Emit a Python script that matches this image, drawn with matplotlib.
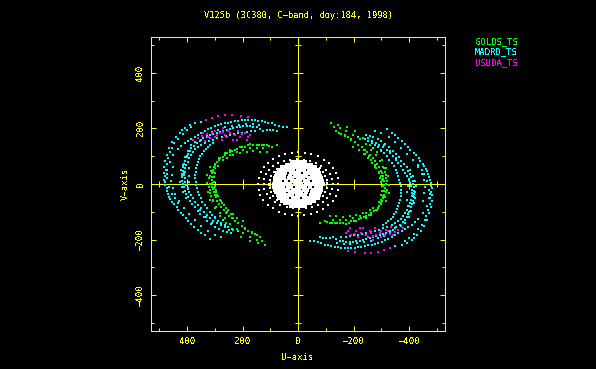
import matplotlib
matplotlib.use("Agg")
import matplotlib.pyplot as plt
import numpy as np

# --- values (half-plane; each baseline has a conjugate at (-u,-v)) ---
cyan_a = [(349,224),(373,218),(391,211),(409,201),(418,193),(427,184),(441,168),(453,150),(464,128),(472,106),(478,84),(482,60),(483,38),(482,16),(478,-4),(472,-26),(464,-46),(454,-64),(438,-84),(423,-104),(403,-124),(385,-144),(361,-166),(337,-184),(319,-198)]
cyan_b = [(42,206),(70,208),(96,218),(120,223),(144,228),(168,230),(192,230),(216,228),(241,223),(265,218),(289,212),(313,202),(337,192),(361,178),(385,162),(409,146),(421,136),(433,126),(451,104),(463,80),(471,50),(474,35),(471,20),(465,-10),(454,-36),(445,-52),(432,-70)]
cyan_c = [(78,192),(102,196),(126,192),(150,204),(174,208),(198,208),(222,204),(246,199),(270,192),(294,184),(318,176),(342,164),(366,146),(385,128),(397,108),(406,84),(414,60),(418,36),(417,12),(412,-12),(403,-36),(391,-60),(372,-84),(352,-108),(328,-132),(300,-154),(271,-170),(243,-178)]
cyan_d = [(156,192),(186,188),(216,182),(246,176),(276,170),(306,160),(337,148),(361,134),(379,116),(393,92),(403,68),(409,44),(409,20),(403,-4),(393,-28),(379,-52),(361,-76),(340,-100),(319,-124),(292,-142),(265,-156),(250,-164)]
cyan_e = [(306,146),(325,134),(340,118),(352,100),(361,80),(367,56),(370,32),(369,8),(364,-16),(357,-40),(345,-64),(328,-88),(309,-112),(288,-132),(265,-148),(240,-162),(215,-170)]
cyan_f = [(400,100),(396,80),(393,56),(392,30),(395,6),(398,-18),(386,-40),(370,-66),(352,-92),(332,-118),(310,-140),(450,60),(455,34),(458,10),(452,-16),(445,-36),(430,-60),(412,-86),(392,-108),(372,-130),(350,-150),(326,-168),(300,-184),(278,-192)]
cyan_g = [(386,206),(400,196),(416,180),(432,162),(446,146),(456,130),(462,114),(468,94),(474,72),(476,52),(478,30),(478,6),(474,-14),(468,-36),(460,-54),(448,-72),(434,-92),(416,-112),(396,-134),(374,-155),(350,-176)]
cyan_h = [(56,206),(84,212),(108,220),(132,226),(156,229),(180,231),(204,229),(228,226),(253,220),(277,215),(301,207),(325,197),(349,185),(373,170),(397,154)]
cyan_i = [(90,194),(114,194),(138,198),(162,206),(186,208),(210,206),(234,202),(258,196),(282,188),(306,180),(330,170),(354,155),(376,137),(391,118),(402,96),(410,72),(416,48),(418,24),(415,0),(408,-24),(397,-48),(382,-72),(362,-96),(340,-120),(314,-143),(286,-162),(257,-174)]
cyan_j = [(171,190),(201,185),(231,179),(261,173),(291,165),(321,154),(349,141),(370,125),(386,104),(398,80),(406,56),(410,32),(407,8),(398,-16),(386,-40),(370,-64),(351,-88),(330,-112),(306,-133),(279,-149),(300,-120),(270,-130)]
cyan_k = [(420,30),(424,8),(420,-10),(414,-30),(404,-50),(412,40),(422,50),(416,70),(408,96),(398,120),(385,140),(370,152),(350,160),(330,178),(310,186),(288,196),(262,204),(238,210),(212,214),(188,216),(164,216),(140,212)]
cyan_l = [(316,140),(333,126),(346,109),(357,90),(364,68),(369,44),(370,20),(367,-4),(361,-28),(351,-52),(337,-76),(319,-100),(299,-122),(277,-140),(252,-155)]

green_a = [(78,140),(96,132),(114,140),(132,140),(150,140),(172,144),(192,134),(210,132),(228,122),(246,116),(264,104),(280,92),(292,78),(303,60),(309,38),(312,14),(310,-10),(304,-28),(297,-48),(285,-72),(268,-94),(249,-116),(229,-132),(204,-152),(180,-168),(156,-180),(138,-190)]
green_b = [(246,122),(264,112),(285,94),(298,72),(306,44),(304,8),(297,-28),(282,-58),(261,-88),(241,-108),(219,-124),(198,-132),(300,56),(316,30),(302,-16),(292,-40),(276,-70),(256,-102),(236,-124),(216,-142),(192,-162),(168,-176)]
green_c = [(114,116),(138,116),(162,118),(186,116),(210,110),(234,104),(258,92),(318,62),(327,32),(328,2),(324,-28),(316,-58),(301,-88),(283,-116),(259,-142),(235,-166),(205,-190),(175,-204),(145,-214),(120,-220)]
green_d = [(105,136),(123,140),(141,140),(161,142),(182,139),(201,133),(219,127),(237,119),(255,110),(272,98),(286,85),(298,69),(306,49),(311,26),(311,2),(307,-19),(301,-38),(291,-60),(277,-83),(259,-105),(239,-124),(217,-142),(192,-160),(168,-174),(147,-185)]
green_e = [(126,128),(150,128),(174,128),(198,124),(222,114),(246,104),(270,86),(290,64),(314,46),(320,20),(320,-10),(316,-34),(308,-58),(296,-82),(280,-104),(262,-124),(244,-144),(222,-162),(198,-176),(172,-190),(150,-200),(130,-206)]
green_f = [(300,40),(302,24),(303,8),(300,-8),(296,-22),(290,-42),(278,-60),(266,-76),(252,-92),(236,-108),(316,0),(318,-20),(314,-44),(306,-62)]

magenta = [(331,232),(288,244),(240,247),(181,242),(343,182),(361,164),(378,160),(312,182),(294,176),(270,188),(246,182),(210,170),(192,184),(174,176),(235,158),(270,200),(336,156),(324,170),(186,158),(258,170),(300,190),(216,192),(348,172),(330,180),(318,164),(300,170),(282,182),(264,178),(252,192),(228,176),(204,180),(180,168),(222,160),(276,158),(310,238),(262,248),(206,246)]

ring_a = [(144,0),(142,22),(135,42),(124,60),(108,76),(90,90),(68,100),(46,108),(22,113),(0,114),(-24,113),(-48,107),(-70,99),(-92,88),(-110,74),(-126,58),(-136,40),(-142,20)]
ring_b = [(124,0),(122,18),(115,36),(104,52),(90,66),(72,76),(50,84),(28,88),(4,90),(-20,88),(-42,84),(-64,76),(-84,66),(-100,52),(-114,36),(-122,18)]
ring_c = [(105,0),(103,16),(98,30),(88,44),(75,55),(-78,56),(-90,44),(-98,30),(-103,16),(-105,4)]

blob_rows = [0,10,20,30,40,50,60,70,78]
blob_us = [
    [82,72,62,42,32,12,2,-8,-28,-48,-58,-68,-78,-88],
    [84,74,64,44,24,14,4,-6,-26,-36,-56,-66,-76,-86],
    [82,72,62,52,32,22,2,-8,-18,-38,-48,-58,-68,-78,-84],
    [80,70,60,50,30,10,0,-10,-20,-30,-50,-60,-70,-80],
    [76,66,56,46,26,16,6,-4,-24,-34,-44,-54,-64,-74],
    [70,60,50,40,30,20,0,-10,-20,-40,-50,-60,-70],
    [58,48,38,28,18,8,-2,-12,-22,-32,-42,-52,-60],
    [42,32,22,12,2,-8,-18,-28,-38,-46],
    [24,14,4,-6,-16,-26],
]

series = [
    ("GOLDS_TS", "#00ff00", [green_a, green_b, green_c, green_d, green_e, green_f]),
    ("MADRD_TS", "#00ffff", [cyan_a, cyan_b, cyan_c, cyan_d, cyan_e, cyan_f, cyan_g, cyan_h, cyan_i, cyan_j, cyan_k, cyan_l]),
    ("USUDA_TS", "#ff00ff", [magenta]),
]
major = [-400, -200, 200, 400]
minor = [-500, -300, -100, 100, 300, 500]
xlabels = ["400", "200", "0", "\u2212200", "\u2212400"]
ylabels = ["\u2212400", "\u2212200", "0", "200", "400"]

W, H = 596, 369
YEL = "#ffff00"
plt.rcParams["font.family"] = "DejaVu Sans Mono"
plt.rcParams["font.size"] = 6.5
plt.rcParams["text.antialiased"] = False

fig = plt.figure(figsize=(W/100, H/100), dpi=100, facecolor="black")
ax = fig.add_axes([150.5/W, (H-331)/H, 294.5/W, 294/H], facecolor="black")
ax.set_xlim(532, -529)
ax.set_ylim(-529, 529)

for s in ax.spines.values():
    s.set_color(YEL); s.set_linewidth(0.72)
ax.set_xticks([400, 200, 0, -200, -400], xlabels)
ax.set_yticks([-400, -200, 0, 200, 400], ylabels)
ax.set_xticks(minor, minor=True)
ax.set_yticks(minor, minor=True)
ax.tick_params(which="major", direction="in", length=3.6, width=0.72, color=YEL,
               labelcolor=YEL, top=True, right=True, pad=4)
ax.tick_params(which="minor", direction="in", length=2.0, width=0.72, color=YEL, top=True, right=True)
plt.setp(ax.get_yticklabels(), rotation=90, va="center")

ax.axhline(0, color=YEL, lw=0.72, zorder=1, antialiased=False)
ax.axvline(0, color=YEL, lw=0.72, zorder=1, antialiased=False)
z = np.zeros(len(major)); zm = np.zeros(len(minor))
ax.plot(major, z, "|", color=YEL, ms=7.2, mew=0.72, zorder=1)
ax.plot(minor, zm, "|", color=YEL, ms=4.3, mew=0.72, zorder=1)
ax.plot(z, major, "_", color=YEL, ms=7.2, mew=0.72, zorder=1)
ax.plot(zm, minor, "_", color=YEL, ms=4.3, mew=0.72, zorder=1)

def scatter(pts, color, s, zo):
    a = np.array(pts, dtype=float)
    ax.scatter(np.r_[a[:, 0], -a[:, 0]], np.r_[a[:, 1], -a[:, 1]], s=s, c=color,
               marker="s", linewidths=0, antialiased=False, zorder=zo)

for i, (name, color, tracks) in enumerate(series):
    for t in tracks:
        scatter(t, color, 1.6, 3 + i)
    fig.text(475/W, 1-(41.5+10.4*i)/H, name, color=color, ha="left", va="center")

for r in (ring_a, ring_b, ring_c):
    scatter(r, "white", 1.2, 7)
blob = [(u, v) for v, us in zip(blob_rows, blob_us) for u in us]
scatter(blob, "white", 6.2, 7)

fig.text(298/W, 1-16/H, "V125b (3C380, C\u2212band, doy:184, 1998)", color=YEL, ha="center", va="center", fontsize=6.2)
fig.text(298/W, 1-358/H, "U\u2212axis", color=YEL, ha="center", va="center")
fig.text(125/W, 1-184/H, "V\u2212axis", color=YEL, ha="center", va="center", rotation=90)

fig.savefig("out.png", dpi=100, facecolor="black")
